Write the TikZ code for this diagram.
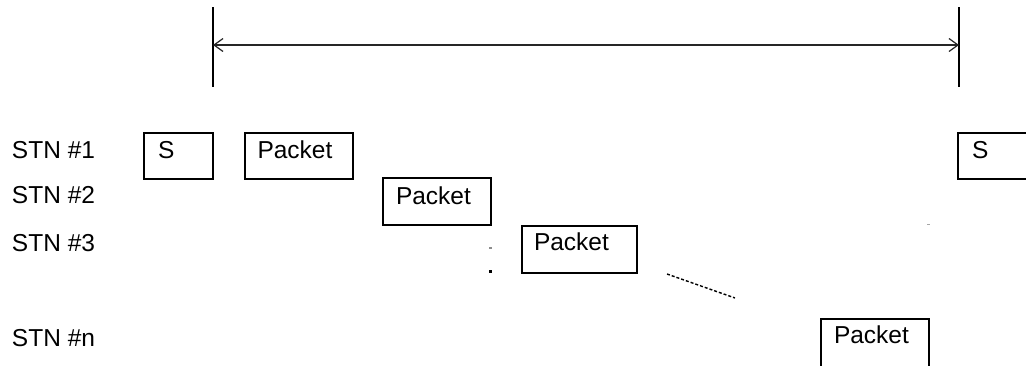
\documentclass[tikz,border=0pt]{standalone}
\usepackage{fontspec}
\setmainfont{Liberation Sans}
\usetikzlibrary{arrows.meta}
\begin{document}
\begin{tikzpicture}[x=1pt,y=-1pt,
  lbl/.style={font=\fontsize{24.5}{28}\selectfont, inner sep=0pt, outer sep=0pt, anchor=base west},
  slot/.style={draw, line width=2pt, inner sep=0pt, outer sep=0pt, anchor=north west},
  bar/.style={line width=2pt},
  span/.style={line width=1.2pt, draw=black!85, {Straight Barb[length=9pt,width=13pt]}-{Straight Barb[length=9pt,width=13pt]}},
  dots/.style={line width=1.4pt, dash pattern=on 3pt off 2pt},
  ]
\clip (0,0) rectangle (1026,365);
\fill[white] (0,0) rectangle (1026,365);

% vertical markers and span arrow
\coordinate (lt) at (213,7);
\coordinate (lb) at (213,87);
\coordinate (rt) at (959,7);
\coordinate (rb) at (959,87);
\coordinate (la) at (213,45);
\coordinate (ra) at (959,45);
\draw[bar] (lt) -- (lb);
\draw[bar] (rt) -- (rb);
\draw[span] (la) -- (ra);

% station labels
\node[lbl] (stn1) at (12,158) {STN \#1};
\node[lbl] (stn2) at (12,203) {STN \#2};
\node[lbl] (stn3) at (12,251) {STN \#3};
\node[lbl] (stnn) at (12,346) {STN \#n};

% slots
\node[slot, minimum width=69pt, minimum height=46pt] (s1) at (144,133) {};
\node[lbl] (s1t) at ([shift={(14,25)}]s1.north west) {S};
\node[slot, minimum width=108pt, minimum height=46pt] (p1) at (245,133) {};
\node[lbl] (p1t) at ([shift={(12.5,25)}]p1.north west) {Packet};
\node[slot, minimum width=108pt, minimum height=47pt] (p2) at (383,178) {};
\node[lbl] (p2t) at ([shift={(13,26)}]p2.north west) {Packet};
\node[slot, minimum width=115pt, minimum height=47pt] (p3) at (522,226) {};
\node[lbl] (p3t) at ([shift={(12,24)}]p3.north west) {Packet};
\node[slot, minimum width=108pt, minimum height=60pt] (pn) at (821,319) {};
\node[lbl] (pnt) at ([shift={(13,24)}]pn.north west) {Packet};
\node[slot, minimum width=100pt, minimum height=46pt] (sr) at (958,133) {};
\node[lbl] (srt) at ([shift={(14,25)}]sr.north west) {S};

% continuation dots
\coordinate (d1) at (667,274);
\coordinate (d2) at (735,298);
\draw[dots] (d1) -- (d2);

% stray small marks
\fill[black!45] (489,247.3) rectangle (492,248.7);
\fill (489,270) rectangle (492,272.5);
\fill[black!35] (927,223.5) rectangle (930,224.6);
\end{tikzpicture}
\end{document}
